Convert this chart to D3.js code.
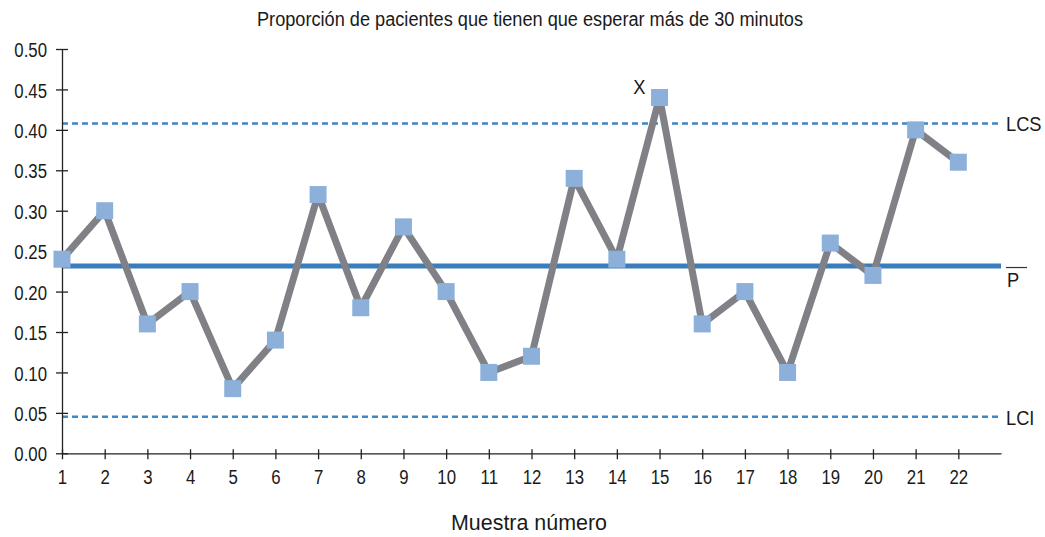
<!DOCTYPE html>
<html>
<head>
<meta charset="utf-8">
<script src="https://cdn.jsdelivr.net/npm/d3@7/dist/d3.min.js"></script>
<style>
  html, body { margin: 0; padding: 0; background: #fff; }
  svg text { font-family: "Liberation Sans", Arial, sans-serif; fill: #1a1a1a; }
</style>
</head>
<body>
<svg id="chart" width="1045" height="537"></svg>
<script>
const samples = [1,2,3,4,5,6,7,8,9,10,11,12,13,14,15,16,17,18,19,20,21,22];
const proportions = [0.24,0.30,0.16,0.20,0.08,0.14,0.32,0.18,0.28,0.20,0.10,0.12,0.34,0.24,0.44,0.16,0.20,0.10,0.26,0.22,0.40,0.36];
const yTicks = [0,0.05,0.10,0.15,0.20,0.25,0.30,0.35,0.40,0.45,0.50];
const pBar = 0.2316;
const lcs = 0.408;
const lci = 0.0453;
const title = "Proporción de pacientes que tienen que esperar más de 30 minutos";
const xTitle = "Muestra número";
const outlierLabel = "X";
const outlierIndex = 14;

const SX = 0.8;      // horizontal squeeze to mimic condensed font
const FS = 21;       // font size

const svg = d3.select("#chart");
const x = d3.scaleLinear().domain([1, 23]).range([62, 1001]);
const y = d3.scaleLinear().domain([0, 0.5]).range([453.3, 49]);

function label(tx, ty, txt, anchor, size, sx) {
  const g = svg.append("g").attr("transform", `translate(${tx},${ty}) scale(${sx || SX},1)`);
  g.append("text").attr("x", 0).attr("y", 0).attr("text-anchor", anchor || "start")
    .style("font-size", (size || FS) + "px").text(txt);
  return g;
}

// title
svg.append("text").attr("x", 530).attr("y", 26).attr("text-anchor", "middle")
  .attr("textLength", 546).attr("lengthAdjust", "spacingAndGlyphs")
  .style("font-size", "20px").text(title);

// control lines
svg.append("line").attr("x1", x(1)).attr("x2", x(23)).attr("y1", y(lcs)).attr("y2", y(lcs))
  .attr("stroke", "#3f86c6").attr("stroke-width", 2.5).attr("stroke-dasharray", "6,4");
svg.append("line").attr("x1", x(1)).attr("x2", x(23)).attr("y1", y(lci)).attr("y2", y(lci))
  .attr("stroke", "#3f86c6").attr("stroke-width", 2.5).attr("stroke-dasharray", "6,4");
svg.append("line").attr("x1", x(1)).attr("x2", x(23)).attr("y1", y(pBar)).attr("y2", y(pBar))
  .attr("stroke", "#3a7dbd").attr("stroke-width", 5);

// axes
const yAxis = d3.axisLeft(y).tickValues(yTicks).tickFormat(d3.format(".2f")).tickSizeOuter(0);
const gy = svg.append("g").attr("transform", `translate(${x(1)},0)`).call(yAxis);
gy.select(".domain").attr("stroke", "#222").attr("stroke-width", 1.3);
gy.selectAll(".tick line").attr("x2", 6).attr("x1", -6).attr("stroke", "#222").attr("stroke-width", 1.3);
gy.selectAll(".tick text").attr("x", -15 / SX).attr("dy", "0.36em").attr("transform", `scale(${SX},1)`)
  .style("font-size", FS + "px").style("font-family", "\"Liberation Sans\", Arial, sans-serif").attr("fill", "#1a1a1a");

const xAxis = d3.axisBottom(x).tickValues(samples).tickFormat(d3.format("d")).tickSizeOuter(0);
const gx = svg.append("g").attr("transform", `translate(0,${y(0)})`).call(xAxis);
gx.select(".domain").attr("stroke", "#222").attr("stroke-width", 1.3);
gx.selectAll(".tick line").attr("y1", -4).attr("y2", 6).attr("stroke", "#222").attr("stroke-width", 1.3);
gx.selectAll(".tick text").attr("y", 31).attr("dy", 0).attr("transform", `scale(${SX},1)`)
  .style("font-size", FS + "px").style("font-family", "\"Liberation Sans\", Arial, sans-serif").attr("fill", "#1a1a1a");

// series line
const line = d3.line().x((d, i) => x(samples[i])).y(d => y(d));
svg.append("path").datum(proportions).attr("d", line).attr("fill", "none")
  .attr("stroke", "#808187").attr("stroke-width", 7).attr("stroke-linejoin", "round");

// markers
const s = 17;
svg.selectAll("rect.m").data(proportions).enter().append("rect").attr("class", "m")
  .attr("x", (d, i) => x(samples[i]) - s / 2).attr("y", d => y(d) - s / 2)
  .attr("width", s).attr("height", s).attr("fill", "#8cb0da");

// labels
label(x(samples[outlierIndex]) - 14, y(proportions[outlierIndex]) - 4, outlierLabel, "end", 21, 0.87);
label(1006, y(lcs) + 8, "LCS", "start", 21, 0.87);
label(1006, y(lci) + 8, "LCI", "start", 21, 0.87);
label(1007, y(pBar) + 21, "P", "start", 21, 0.87);
svg.append("line").attr("x1", 1006).attr("x2", 1027).attr("y1", y(pBar) + 1.5).attr("y2", y(pBar) + 1.5)
  .attr("stroke", "#333").attr("stroke-width", 1.2);

svg.append("text").attr("x", 529).attr("y", 530).attr("text-anchor", "middle")
  .attr("textLength", 156).attr("lengthAdjust", "spacingAndGlyphs")
  .style("font-size", "22px").text(xTitle);
</script>
</body>
</html>
